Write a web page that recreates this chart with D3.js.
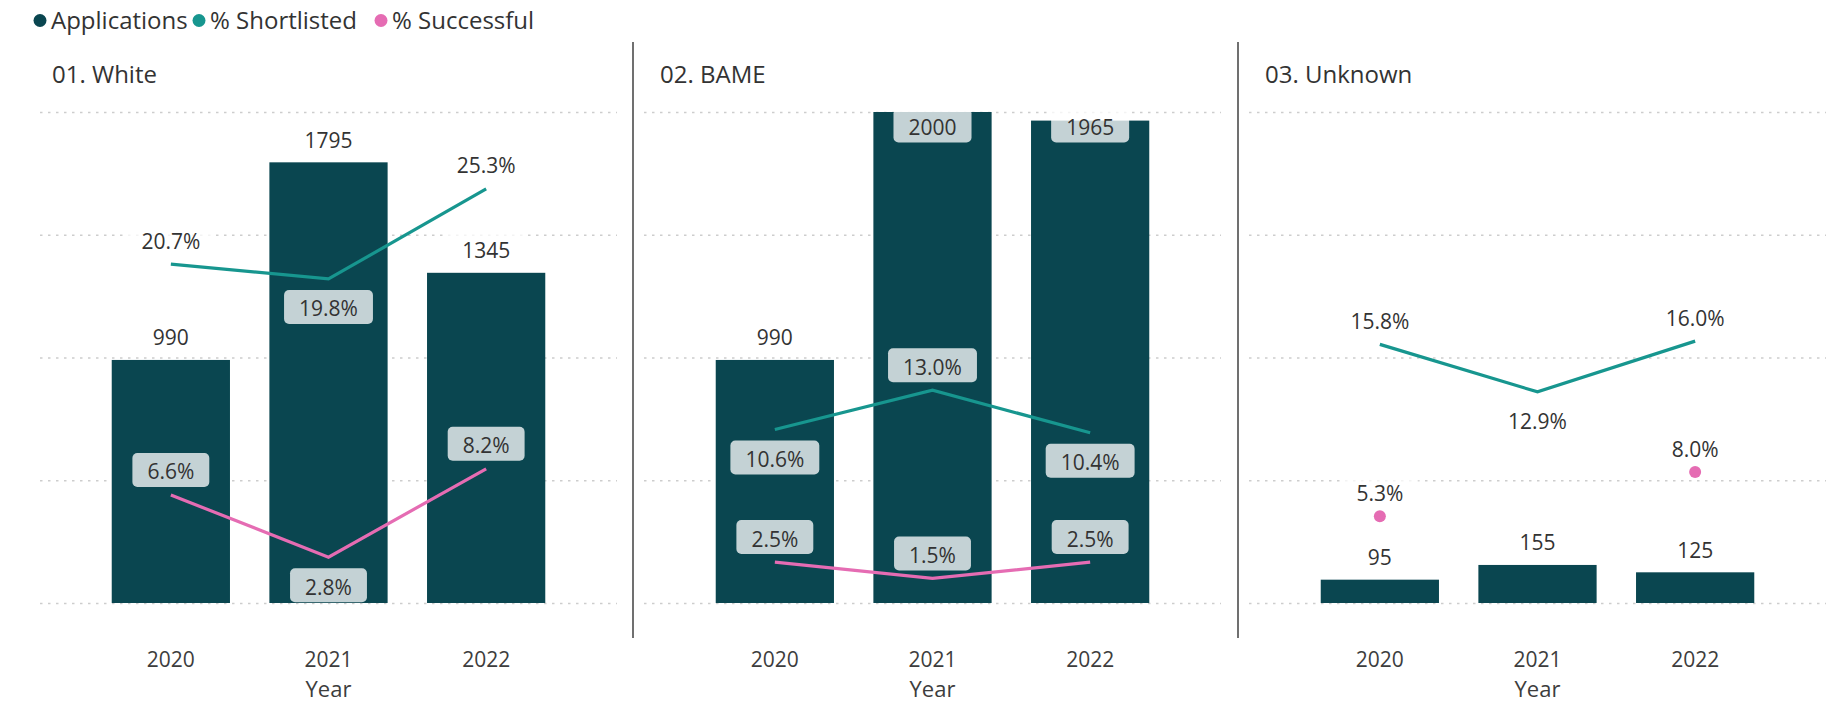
<!DOCTYPE html>
<html>
<head>
<meta charset="utf-8">
<script src="https://cdn.jsdelivr.net/npm/d3@7"></script>
<style>
  html, body { margin: 0; padding: 0; background: #ffffff; }
  svg text { font-family: "Segoe UI", "Open Sans", "Noto Sans", sans-serif; }
</style>
</head>
<body>
<svg id="chart" width="1841" height="703"></svg>
<script>
// ---- data ----
const years = ["2020", "2021", "2022"];
const groups = ["01. White", "02. BAME", "03. Unknown"];
const applications = [
  [990, 1795, 1345],
  [990, 2000, 1965],
  [95, 155, 125]
];
const shortlisted = [
  [0.207, 0.198, 0.253],
  [0.106, 0.130, 0.104],
  [0.158, 0.129, 0.160]
];
const successful = [
  [0.066, 0.028, 0.082],
  [0.025, 0.015, 0.025],
  [0.053, null, 0.080]
];
const seriesNames = ["Applications", "% Shortlisted", "% Successful"];
const applicationTicks = [0, 500, 1000, 1500, 2000];
const xAxisTitle = "Year";

// ---- layout & style ----
const W = 1841, H = 703;
const plotTop = 112, plotBottom = 603;
const panelX = [[40, 617], [644, 1221], [1249, 1826]];
const titleX = [52, 660, 1265];
const legendDotX = [40, 199, 381];
const separatorX = [633, 1238];
const COLORS = {
  bar: "#0a4650",
  short: "#17968f",
  succ: "#e56cb3",
  label: "#333333",
  axis: "#3d3d3d",
  grid: "#cdcdcd",
  sep: "#707070"
};
const LABEL_SIZE = 21;
const CAP = 0.714 * LABEL_SIZE;

const svg = d3.select("#chart");
svg.append("rect").attr("width", W).attr("height", H).attr("fill", "#fff");

const yApps = d3.scaleLinear().domain([0, 2000]).range([plotBottom, plotTop]);
const yPct = d3.scaleLinear().domain([0, 0.30]).range([plotBottom, plotTop]);
const fmtPct = d3.format(".1%");
const fmtNum = d3.format("d");

// ---- legend ----
const legend = svg.append("g").attr("class", "legend");
const legendColors = [COLORS.bar, COLORS.short, COLORS.succ];
seriesNames.forEach((name, i) => {
  legend.append("circle")
    .attr("cx", legendDotX[i]).attr("cy", 20.5).attr("r", 6.5)
    .attr("fill", legendColors[i]);
  legend.append("text")
    .attr("x", legendDotX[i] + 11).attr("y", 29)
    .attr("font-size", 24).attr("fill", COLORS.label)
    .text(name);
});

// ---- separators ----
separatorX.forEach(x => {
  svg.append("line")
    .attr("x1", x).attr("x2", x).attr("y1", 42).attr("y2", 638)
    .attr("stroke", COLORS.sep).attr("stroke-width", 2);
});

// one labelled value with a translucent white plate behind it
function addLabel(g, cx, cy, text) {
  const grp = g.append("g").attr("class", "data-label");
  const plate = grp.append("rect");
  const t = grp.append("text")
    .attr("x", cx).attr("y", cy + CAP / 2)
    .attr("text-anchor", "middle")
    .attr("font-size", LABEL_SIZE)
    .attr("fill", COLORS.label)
    .text(text);
  const w = t.node().getComputedTextLength();
  plate.attr("x", cx - w / 2 - 15).attr("y", cy - 19)
    .attr("width", w + 30).attr("height", 34)
    .attr("rx", 5).attr("ry", 5)
    .attr("fill", "#ffffff").attr("fill-opacity", 0.76);
}

groups.forEach((group, p) => {
  const [x0, x1] = panelX[p];
  const g = svg.append("g").attr("class", "panel");

  const x = d3.scaleBand().domain(years).range([x0, x1])
    .paddingInner(0.25).paddingOuter(0.455);
  const cx = yr => x(yr) + x.bandwidth() / 2;

  // panel title
  g.append("text")
    .attr("x", titleX[p]).attr("y", 83)
    .attr("font-size", 24).attr("fill", COLORS.label)
    .text(group);

  // dotted gridlines
  const grid = g.append("g")
    .attr("transform", `translate(${x0},0)`)
    .call(d3.axisRight(yApps).tickValues(applicationTicks)
      .tickSize(x1 - x0).tickFormat(""));
  grid.select(".domain").remove();
  grid.selectAll(".tick line")
    .attr("stroke", COLORS.grid).attr("stroke-width", 1.6)
    .attr("stroke-dasharray", "2.5,5.5");

  // x axis
  const xa = g.append("g")
    .attr("transform", `translate(0,${plotBottom})`)
    .call(d3.axisBottom(x).tickSize(0));
  xa.select(".domain").remove();
  xa.selectAll(".tick text")
    .attr("y", 64).attr("dy", 0)
    .attr("font-size", 21).attr("fill", COLORS.axis)
    .attr("font-family", null);
  g.append("text")
    .attr("x", cx(years[1])).attr("y", 697)
    .attr("text-anchor", "middle")
    .attr("font-size", 22).attr("fill", COLORS.axis)
    .text(xAxisTitle);

  // bars
  const apps = years.map((yr, i) => ({ yr, v: applications[p][i] }));
  g.append("g").selectAll("rect").data(apps).join("rect")
    .attr("x", d => x(d.yr)).attr("width", x.bandwidth())
    .attr("y", d => yApps(d.v)).attr("height", d => plotBottom - yApps(d.v))
    .attr("fill", COLORS.bar);

  // lines
  const lineSeries = [
    { values: shortlisted[p], color: COLORS.short },
    { values: successful[p], color: COLORS.succ }
  ];
  const lineGen = d3.line()
    .defined(d => d.v != null)
    .x(d => cx(d.yr)).y(d => yPct(d.v));
  lineSeries.forEach(s => {
    const pts = years.map((yr, i) => ({ yr, v: s.values[i], i }));
    g.append("path").datum(pts)
      .attr("d", lineGen)
      .attr("fill", "none").attr("stroke", s.color)
      .attr("stroke-width", 3.2).attr("stroke-linejoin", "miter");
    // isolated points are shown as markers
    pts.forEach((d, i) => {
      if (d.v == null) return;
      const prev = i > 0 ? pts[i - 1].v : null;
      const next = i < pts.length - 1 ? pts[i + 1].v : null;
      if (prev == null && next == null) {
        g.append("circle").attr("cx", cx(d.yr)).attr("cy", yPct(d.v))
          .attr("r", 6).attr("fill", s.color);
      }
    });
    s.pts = pts;
  });

  // labels: bars
  const labels = g.append("g");
  apps.forEach(d => {
    const cy = Math.max(yApps(d.v) - 22, plotTop + 15.5);
    addLabel(labels, cx(d.yr), cy, fmtNum(d.v));
  });

  // labels: lines (above peaks, below troughs, kept inside the plot)
  lineSeries.forEach(s => {
    s.pts.forEach((d, i) => {
      if (d.v == null) return;
      const nb = [s.pts[i - 1], s.pts[i + 1]]
        .filter(n => n && n.v != null).map(n => n.v);
      const py = yPct(d.v);
      let below = nb.length > 0 && d.v < d3.mean(nb);
      if (below && py + 30 + 15 > plotBottom + 4) below = false;
      const cy = below ? py + 30 : py - 23;
      addLabel(labels, cx(d.yr), cy, fmtPct(d.v));
    });
  });
});
</script>
</body>
</html>
